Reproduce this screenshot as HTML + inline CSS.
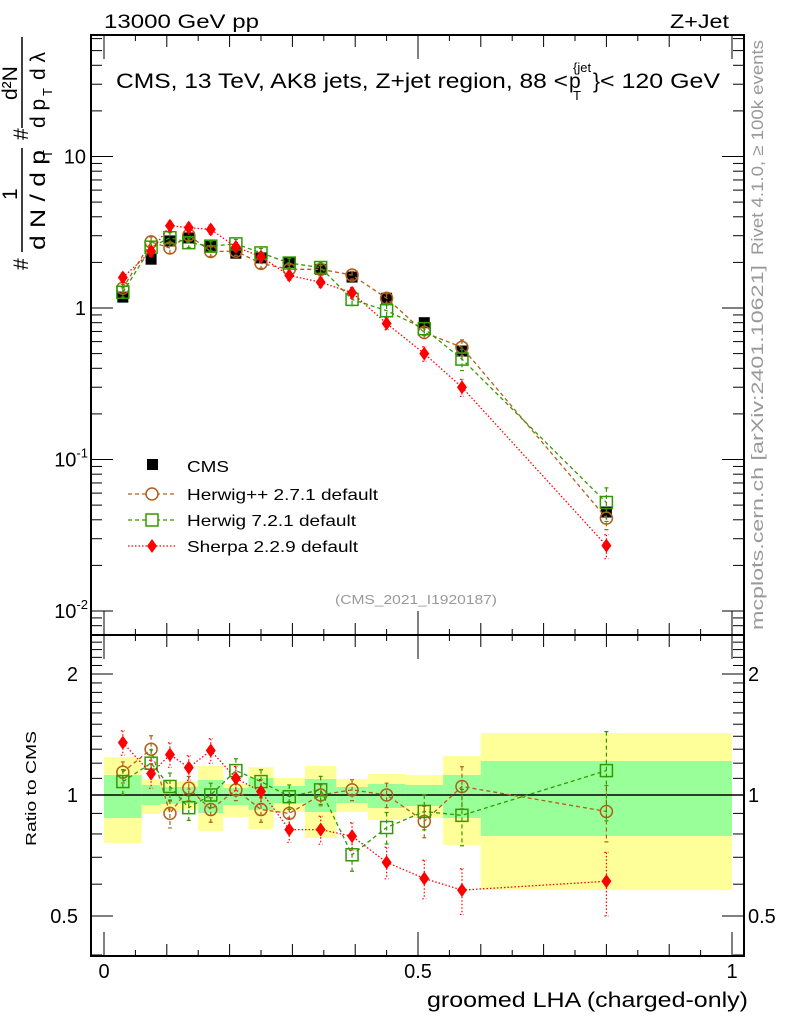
<!DOCTYPE html>
<html><head><meta charset="utf-8"><style>
body{margin:0;background:#fff}
svg{display:block;font-family:"Liberation Sans",sans-serif}
</style></head><body>
<svg id="c" width="786" height="1024" xmlns="http://www.w3.org/2000/svg">
<rect width="786" height="1024" fill="#fff"/>
<g id="bands"></g>
<g id="ticks"></g>
<g id="marks"></g>
<rect x="91" y="35" width="653" height="600" fill="none" stroke="#000" stroke-width="2"/>
<rect x="91" y="635" width="653" height="321" fill="none" stroke="#000" stroke-width="2"/>
<text x="104" y="28" font-size="19" textLength="155" lengthAdjust="spacingAndGlyphs">13000 GeV pp</text>
<text x="670" y="28" font-size="19" textLength="59" lengthAdjust="spacingAndGlyphs">Z+Jet</text>
<g>
<text x="116" y="88" font-size="21" textLength="452" lengthAdjust="spacingAndGlyphs">CMS, 13 TeV, AK8 jets, Z+jet region, 88 &lt;</text>
<text x="569" y="88" font-size="21">p</text>
<text x="573" y="100" font-size="13">T</text>
<text x="573" y="72" font-size="13">{jet</text>
<text x="593" y="88" font-size="21">}</text>
<text x="600" y="88" font-size="21" textLength="120" lengthAdjust="spacingAndGlyphs">&lt; 120 GeV</text>
</g>
<text x="416" y="604" font-size="13" fill="#999" textLength="162" lengthAdjust="spacingAndGlyphs" text-anchor="middle">(CMS_2021_I1920187)</text>
<text transform="translate(763,255) rotate(-90)" font-size="17" fill="#999" textLength="215" lengthAdjust="spacingAndGlyphs">Rivet 4.1.0, ≥ 100k events</text>
<text transform="translate(763,630) rotate(-90)" font-size="17" fill="#999" textLength="365" lengthAdjust="spacingAndGlyphs">mcplots.cern.ch [arXiv:2401.10621]</text>
<g>
<text transform="translate(28,270) rotate(-90)" font-size="21">#</text>
<text transform="translate(28,140) rotate(-90)" font-size="21">#</text>
<text transform="translate(17,200) rotate(-90)" font-size="21">1</text>
<line x1="22" y1="148" x2="22" y2="252" stroke="#000" stroke-width="1.5"/>
<text transform="translate(45,250) rotate(-90)" font-size="21" textLength="100" lengthAdjust="spacingAndGlyphs">d N / d p</text>
<text transform="translate(52,158) rotate(-90)" font-size="13">T</text>
<text transform="translate(17,100) rotate(-90)" font-size="21">d²N</text>
<line x1="22" y1="37" x2="22" y2="128" stroke="#000" stroke-width="1.5"/>
<text transform="translate(45,128) rotate(-90)" font-size="21">d p</text>
<text transform="translate(52,96) rotate(-90)" font-size="13">T</text>
<text transform="translate(45,80) rotate(-90)" font-size="21"> d λ</text>
</g>
<text transform="translate(36,846) rotate(-90)" font-size="15" textLength="115" lengthAdjust="spacingAndGlyphs">Ratio to CMS</text>
<text x="427" y="1007" font-size="21" textLength="321" lengthAdjust="spacingAndGlyphs">groomed LHA (charged-only)</text>
<g>
<rect x="147" y="459" width="11" height="11" fill="#000"/>
<text x="187" y="472" font-size="16" textLength="42" lengthAdjust="spacingAndGlyphs">CMS</text>
<line x1="128" y1="494" x2="176" y2="494" stroke="#b0601a" stroke-dasharray="4,3" stroke-width="1.3"/>
<circle cx="152" cy="494" r="6" fill="#fff" stroke="#b0601a" stroke-width="1.5"/>
<text x="187" y="500" font-size="16" textLength="191" lengthAdjust="spacingAndGlyphs">Herwig++ 2.7.1 default</text>
<line x1="128" y1="520" x2="176" y2="520" stroke="#339900" stroke-dasharray="4,3" stroke-width="1.3"/>
<rect x="146" y="514" width="12" height="12" fill="#fff" stroke="#339900" stroke-width="1.5"/>
<text x="187" y="526" font-size="16" textLength="169" lengthAdjust="spacingAndGlyphs">Herwig 7.2.1 default</text>
<line x1="128" y1="546" x2="176" y2="546" stroke="#f00" stroke-dasharray="1.5,2" stroke-width="1.3"/>
<path d="M152 539 L157 546 L152 553 L147 546Z" fill="#f00"/>
<text x="187" y="552" font-size="16" textLength="171" lengthAdjust="spacingAndGlyphs">Sherpa 2.2.9 default</text>
</g>
</svg>
<script>
const edges=[0,0.06,0.09,0.12,0.15,0.19,0.23,0.27,0.32,0.37,0.42,0.48,0.54,0.60,1.0];
const centers=[0.03,0.075,0.105,0.135,0.17,0.21,0.25,0.295,0.345,0.395,0.45,0.51,0.57,0.8];
const cms=[1.18,2.1,2.77,2.9,2.56,2.3,2.14,2.0,1.8,1.6,1.16,0.8,0.52,0.045];
const hpp=[1.35,2.73,2.49,3.02,2.36,2.37,1.97,1.80,1.80,1.65,1.16,0.69,0.55,0.041];
const h7=[1.27,2.52,2.91,2.70,2.56,2.65,2.31,1.98,1.85,1.14,0.96,0.73,0.46,0.052];
const sh=[1.59,2.37,3.49,3.39,3.30,2.53,2.18,1.64,1.48,1.26,0.79,0.50,0.30,0.027];
const hppR=[1.14,1.30,0.90,1.04,0.92,1.03,0.92,0.90,1.0,1.03,1.0,0.86,1.05,0.91];
const h7R=[1.08,1.20,1.05,0.93,1.0,1.15,1.08,0.99,1.03,0.71,0.83,0.91,0.89,1.15];
const shR=[1.35,1.13,1.26,1.17,1.29,1.10,1.02,0.82,0.82,0.79,0.68,0.62,0.58,0.61];
const hppE=[0.06,0.08,0.08,0.07,0.07,0.06,0.07,0.07,0.06,0.06,0.07,0.09,0.12,0.16];
const h7E=[0.07,0.08,0.08,0.07,0.07,0.07,0.07,0.07,0.08,0.09,0.09,0.10,0.16,0.25];
const shE=[0.07,0.08,0.07,0.07,0.07,0.07,0.07,0.07,0.08,0.08,0.09,0.11,0.13,0.18];
const yelUp=[1.243,1.096,1.077,1.083,1.181,1.065,1.174,1.102,1.181,1.096,1.128,1.121,1.250,1.426];
const yelDn=[0.760,0.897,0.907,0.918,0.814,0.882,0.823,0.907,0.782,0.907,0.867,0.877,0.751,0.580];
const grnUp=[1.121,1.059,1.047,1.047,1.090,1.041,1.102,1.053,1.096,1.047,1.065,1.059,1.121,1.215];
const grnDn=[0.877,0.944,0.950,0.955,0.902,0.944,0.918,0.955,0.907,0.955,0.928,0.939,0.877,0.791];
const xTicks=[0,0.5,1];
const xTickLabels=["0","0.5","1"];
const yTickLabels=["10","1","10^-1","10^-2"];
const yTickVals=[10,1,0.1,0.01];
const rTickVals=[2,1,0.5];
const rTickLabels=["2","1","0.5"];

const NS="http://www.w3.org/2000/svg";
const X=v=>104+628*v;
const Y=v=>308-151.5*Math.log10(v);
const R=v=>795-402*Math.log10(v);
function mk(tag,at,parent){const e=document.createElementNS(NS,tag);for(const k in at)e.setAttribute(k,at[k]);document.getElementById(parent).appendChild(e);return e;}

for(let i=0;i<centers.length;i++){
  const x0=X(edges[i]),x1=X(edges[i+1]);
  const a=mk('rect',{x:x0,y:R(yelUp[i]),width:x1-x0,height:R(yelDn[i])-R(yelUp[i]),fill:'#ffff99'},'bands');
  
  
  const b=mk('rect',{x:x0,y:R(grnUp[i]),width:x1-x0,height:R(grnDn[i])-R(grnUp[i]),fill:'#99ff99'},'bands');
  
  
}
const ln=mk('line',{x1:91,x2:744,y1:R(1),y2:R(1),stroke:'#000','stroke-width':1.5},'bands');



for(let v=0;v<=1.0001;v+=0.05){
  const maj=Math.abs(v*10-Math.round(v*10))<1e-6;
  const big=Math.abs(v-0.5)<1e-6||v<1e-6||v>0.999;
  const L=big?24:(maj?12:6);
  mk('line',{x1:X(v),x2:X(v),y1:35,y2:35+L,stroke:'#000'},'ticks');
  mk('line',{x1:X(v),x2:X(v),y1:635,y2:635-L,stroke:'#000'},'ticks');
  mk('line',{x1:X(v),x2:X(v),y1:635,y2:635+L,stroke:'#000'},'ticks');
  mk('line',{x1:X(v),x2:X(v),y1:956,y2:956-L,stroke:'#000'},'ticks');
}
for(let d=-3;d<=1;d++){for(let m=1;m<10;m++){const v=m*Math.pow(10,d);const y=Y(v);if(y<36||y>634)continue;const L=m==1?22:11;
  mk('line',{x1:91,x2:91+L,y1:y,y2:y,stroke:'#000'},'ticks');mk('line',{x1:744,x2:744-L,y1:y,y2:y,stroke:'#000'},'ticks');}}
for(let k=4;k<=25;k++){const v=k/10;const y=R(v);if(y<636||y>955)continue;const L=(k==5||k==10||k==20)?22:11;
  mk('line',{x1:91,x2:91+L,y1:y,y2:y,stroke:'#000'},'ticks');mk('line',{x1:744,x2:744-L,y1:y,y2:y,stroke:'#000'},'ticks');}
xTicks.forEach((v,i)=>{const t=mk('text',{x:X(v),y:978,'font-size':20,'text-anchor':'middle'},'ticks');t.textContent=xTickLabels[i];
  
  });
yTickVals.forEach((v,i)=>{const s=yTickLabels[i];const t=mk('text',{x:v>=1?86:76,y:Y(v)+7,'font-size':20,'text-anchor':'end'},'ticks');
  if(s.includes('^')){const p=s.split('^');t.textContent=p[0];const sp=document.createElementNS(NS,'tspan');sp.setAttribute('font-size',13);sp.setAttribute('dy',-9);sp.textContent=p[1];t.appendChild(sp);t.setAttribute('x',88);}
  else t.textContent=s;
  
  });
rTickVals.forEach((v,i)=>{const t=mk('text',{x:78,y:R(v)+7,'font-size':20,'text-anchor':'end'},'ticks');t.textContent=rTickLabels[i];
  
  
  const u=mk('text',{x:748,y:R(v)+7,'font-size':20},'ticks');u.textContent=rTickLabels[i];
  
  });

function series(vals,ratio,err,color,dash,shape,name){
  const g=mk('g',{},'marks');
  
  
  const top=centers.map((c,i)=>X(c)+','+Y(vals[i])).join(' ');
  const bot=centers.map((c,i)=>X(c)+','+R(ratio[i])).join(' ');
  [top,bot].forEach(p=>{const e=document.createElementNS(NS,'polyline');e.setAttribute('points',p);e.setAttribute('fill','none');e.setAttribute('stroke',color);e.setAttribute('stroke-width',1.3);e.setAttribute('stroke-dasharray',dash);g.appendChild(e);});
  centers.forEach((c,i)=>{
    [[Y(vals[i]),Y(vals[i]*(1+err[i])),Y(vals[i]*(1-err[i]))],[R(ratio[i]),R(ratio[i]*(1+err[i])),R(ratio[i]*(1-err[i]))]].forEach(([y,yu,yd])=>{
      const x=X(c);
      const e=document.createElementNS(NS,'path');
      e.setAttribute('d',`M${x} ${yu}V${yd}M${x-2} ${yu}H${x+2}M${x-2} ${yd}H${x+2}`);
      e.setAttribute('stroke',color);e.setAttribute('stroke-width',1.2);e.setAttribute('stroke-dasharray',dash);g.appendChild(e);
      let m;
      if(shape=='circle'){m=document.createElementNS(NS,'circle');m.setAttribute('cx',x);m.setAttribute('cy',y);m.setAttribute('r',6);m.setAttribute('fill','none');m.setAttribute('stroke',color);m.setAttribute('stroke-width',1.5);}
      else if(shape=='square'){m=document.createElementNS(NS,'rect');m.setAttribute('x',x-6);m.setAttribute('y',y-6);m.setAttribute('width',12);m.setAttribute('height',12);m.setAttribute('fill','none');m.setAttribute('stroke',color);m.setAttribute('stroke-width',1.5);}
      else {m=document.createElementNS(NS,'path');m.setAttribute('d',`M${x} ${y-7}L${x+5} ${y}L${x} ${y+7}L${x-5} ${y}Z`);m.setAttribute('fill',color);}
      
      
      g.appendChild(m);
    });
  });
}
centers.forEach((c,i)=>{const r=mk('rect',{x:X(c)-5.5,y:Y(cms[i])-5.5,width:11,height:11,fill:'#000'},'marks');
  
  });
series(hpp,hppR,hppE,'#b0601a','4,3','circle','herwigpp-series');
series(h7,h7R,h7E,'#339900','4,3','square','herwig7-series');
series(sh,shR,shE,'#ff0000','1.5,2','diamond','sherpa-series');
</script>
</body></html>
